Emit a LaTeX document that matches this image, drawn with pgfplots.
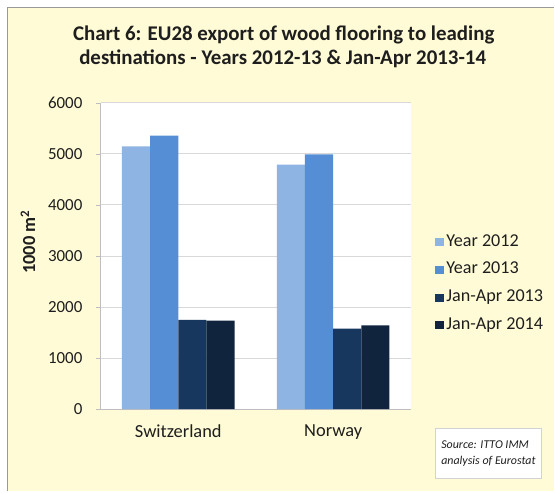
\documentclass[border=0pt]{standalone}
\usepackage{fontspec}
\setmainfont{Carlito}
\usepackage{pgfplots}
\pgfplotsset{compat=1.18}
\definecolor{cream}{RGB}{255,251,214}
\definecolor{cA}{RGB}{142,180,227}
\definecolor{cB}{RGB}{85,142,213}
\definecolor{cC}{RGB}{23,55,94}
\definecolor{cD}{RGB}{16,36,62}
\definecolor{gridgray}{RGB}{217,217,217}
\definecolor{axgray}{RGB}{190,190,190}
\definecolor{txt}{RGB}{30,30,30}
\begin{document}
\begin{tikzpicture}[x=1bp,y=1bp]
\fill[white] (0,0) rectangle (555,492);
\fill[cream] (8,0) rectangle (555,484);
\draw[gray!80, line width=1.2bp] (7.6,0) -- (7.6,484.4) -- (555,484.4);
\node[anchor=base, text=txt, font=\bfseries\fontsize{21}{25}\selectfont] at (284,451.5) {Chart 6: EU28 export of wood flooring to leading};
\node[anchor=base, text=txt, font=\bfseries\fontsize{21}{25}\selectfont] at (283,427) {destinations - Years 2012-13 \& Jan-Apr 2013-14};
\begin{axis}[
  at={(101bp,82.5bp)}, anchor=south west,
  scale only axis, width=310bp, height=306.5bp,
  axis background/.style={fill=white},
  ymin=0, ymax=6000, ytick={0,1000,...,6000},
  xmin=-0.5, xmax=1.5, xtick={0,1},
  xticklabels={Switzerland,Norway},
  major x tick style={draw=none},
  extra x ticks={-0.5,0.5,1.5}, extra x tick labels={},
  extra x tick style={grid=none, major tick length=4bp, major tick style={draw=axgray}},
  tick align=outside, major tick length=5bp,
  y tick style={draw=axgray},
  axis x line*=bottom, axis y line*=left,
  axis line style={axgray, line width=0.8bp},
  ymajorgrids, grid style={gridgray, line width=0.9bp},
  ybar=0pt, bar width=28.2bp,
  enlargelimits=false,
  /pgf/number format/assume math mode=true,
  yticklabel style={/pgf/number format/1000 sep={}, font=\fontsize{17}{20}\selectfont, text=txt, xshift=-10bp},
  xticklabel style={font=\fontsize{18.5}{22}\selectfont, text=txt, yshift=-7bp},
  ylabel={\bfseries 1000 m\textsuperscript{2}},
  every axis y label/.style={at={(axis description cs:-0.2355,0.545)}, rotate=90, anchor=center, font=\fontsize{18.5}{22}\selectfont, text=txt},
  legend style={at={(axis description cs:1.07,0.585)}, anchor=north west, draw=none, fill=none,
    font=\fontsize{18.2}{21}\selectfont, text=txt, row sep=7.8bp,
    nodes={text height=12bp, text depth=4bp, inner sep=2bp}},
  legend cell align=left,
  legend image code/.code={\fill[#1] (0bp,-4bp) rectangle (9bp,4bp);},
]
\addplot[fill=cA, draw=none] coordinates {(0,5150) (1,4790)};
\addplot[fill=cB, draw=none] coordinates {(0,5360) (1,4990)};
\addplot[fill=cC, draw=none] coordinates {(0,1750) (1,1575)};
\addplot[fill=cD, draw=none] coordinates {(0,1735) (1,1640)};
\legend{Year 2012, Year 2013, Jan-Apr 2013, Jan-Apr 2014}
\end{axis}
\node[draw=gray!35, fill=white, minimum width=106bp, minimum height=50bp, align=left,
  font=\itshape\fontsize{12}{16}\selectfont, text=txt] at (489,38) {Source: ITTO IMM\\analysis of Eurostat};
\end{tikzpicture}
\end{document}
